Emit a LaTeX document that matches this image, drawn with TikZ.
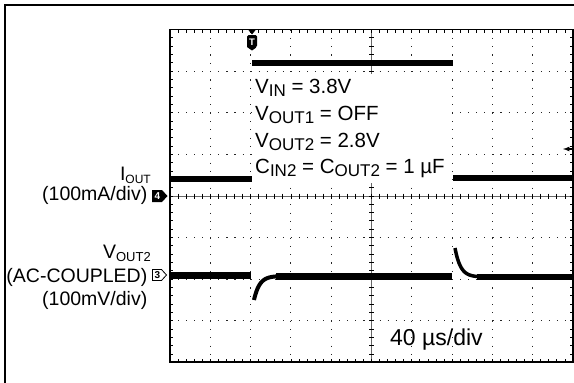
\documentclass[tikz,border=0pt]{standalone}
\usepackage{fontspec}
\setmainfont{Liberation Sans}
\usetikzlibrary{shapes,arrows,positioning,calc}

\newcommand{\subtxt}[2][17]{\raisebox{-3.5pt}{\fontsize{#1}{#1}\selectfont #2}}

\begin{document}
\begin{tikzpicture}[x=1pt,y=-1pt,
    lbl/.style={inner sep=0pt,font=\fontsize{19.5}{20}\selectfont},
    info/.style={inner sep=0pt,font=\fontsize{20.5}{21}\selectfont},
    trace/.style={line width=5.5pt},
    hdots/.style={black!85,line width=1.1pt,dash pattern=on 1.1pt off 6.96pt},
    vdots/.style={black!85,line width=1.1pt,dash pattern=on 1.1pt off 7.22pt},
    marktxt/.style={inner sep=0pt,font=\fontsize{10}{10}\selectfont\bfseries}]
    \useasboundingbox (0,0) rectangle (574,383);

    % Outer frame
    \draw[line width=2pt] (5,383) -- (5,5) -- (574,5);

    % Graticule
    \foreach \i in {1,2,3,4,6,7,8,9}
        \draw[vdots] (170+\i*40.3,29.5) -- (170+\i*40.3,362);
    \foreach \j in {1,2,3,5,6,7}
        \draw[hdots] (170,29.5+\j*41.6) -- (573,29.5+\j*41.6);
    \draw[black!60,line width=0.6pt] (170,196) -- (573,196) (371.5,29.5) -- (371.5,362);
    \foreach \i in {1,...,49} {
        \draw[line width=0.8pt] (170+\i*8.06,29.5) -- ++(0,3) (170+\i*8.06,362) -- ++(0,-3);
        \draw[line width=0.8pt] (170+\i*8.06,193.5) -- ++(0,5);
    }
    \foreach \j in {1,...,39} {
        \draw[line width=0.8pt] (170,29.5+\j*8.32) -- ++(3,0) (573,29.5+\j*8.32) -- ++(-3,0);
        \draw[line width=0.8pt] (369,29.5+\j*8.32) -- ++(5,0);
    }
    \draw[line width=1.8pt] (170,29.5) rectangle (573,362);

    % Settings box
    \fill[white] (254,74) rectangle (451,183);
    \node[info,anchor=base west] (vin) at (255,93) {V\subtxt{IN} = 3.8V};
    \node[info,anchor=base west] (voutone) at (255,120) {V\subtxt{OUT1} = OFF};
    \node[info,anchor=base west] (vouttwo) at (255,147) {V\subtxt{OUT2} = 2.8V};
    \node[info,anchor=base west] (caps) at (255,173) {C\subtxt{IN2} = C\subtxt{OUT2} = 1 µF};

    % I_OUT trace
    \draw[trace] (171,179) -- (252,179);
    \draw[trace] (252,63) -- (453,63);
    \draw[trace] (453,178) -- (573,178);

    % V_OUT2 trace
    \draw[line width=7pt] (171,275) -- (251,275);
    \draw[line width=4pt] plot[domain=0:24,samples=40] ({254+\x},{276+24*exp(-\x/5.5)});
    \draw[line width=6.5pt] (276,276.5) -- (452,276.5);
    \draw[line width=3.5pt] plot[domain=0:24,samples=40] ({455+\x},{277-29*exp(-\x/5.5)});
    \draw[line width=6.5pt] (477,277) -- (573,277);

    % Trigger marks
    \fill (248,29.5) -- (256,29.5) -- (252,34.5) -- cycle;
    \fill[rounded corners=1.5pt] (247,47) -- (247,35) -- (257,35) -- (257,47) [sharp corners] -- (252,50.5) -- cycle;
    \node[marktxt,text=white,font=\fontsize{9.5}{9.5}\selectfont\bfseries] (trig) at (252,42) {T};
    \coordinate (lvl) at (563,149);
    \coordinate (lvlend) at (574,149);
    \draw[-latex,line width=1.2pt] (lvlend) -- (lvl);

    % Channel labels
    \fill (152,190) -- (162,190) -- (167.5,196) -- (162,202) -- (152,202) -- cycle;
    \node[marktxt,text=white] (chfour) at (157.5,196) {4};
    \draw[line width=0.8pt,fill=white] (152.5,269.5) -- (161.5,269.5) -- (166.5,275) -- (161.5,280.5) -- (152.5,280.5) -- cycle;
    \node[marktxt] (chthree) at (157.5,275) {3};
    \node[lbl,anchor=base east] (iout) at (151,180) {I\subtxt[12]{OUT}};
    \node[lbl,anchor=base east] (ioutdiv) at (147.5,200) {(100mA/div)};
    \node[lbl,anchor=base east] (vout) at (151,258) {V\subtxt[13]{OUT2}};
    \node[lbl,anchor=base east] (acc) at (147.5,282) {(AC-COUPLED)};
    \node[lbl,anchor=base east] (voutdiv) at (147.5,305) {(100mV/div)};

    % Time base
    \node[lbl,anchor=base west,font=\fontsize{23}{24}\selectfont] (tdiv) at (390,345) {40 µs/div};
\end{tikzpicture}
\end{document}
